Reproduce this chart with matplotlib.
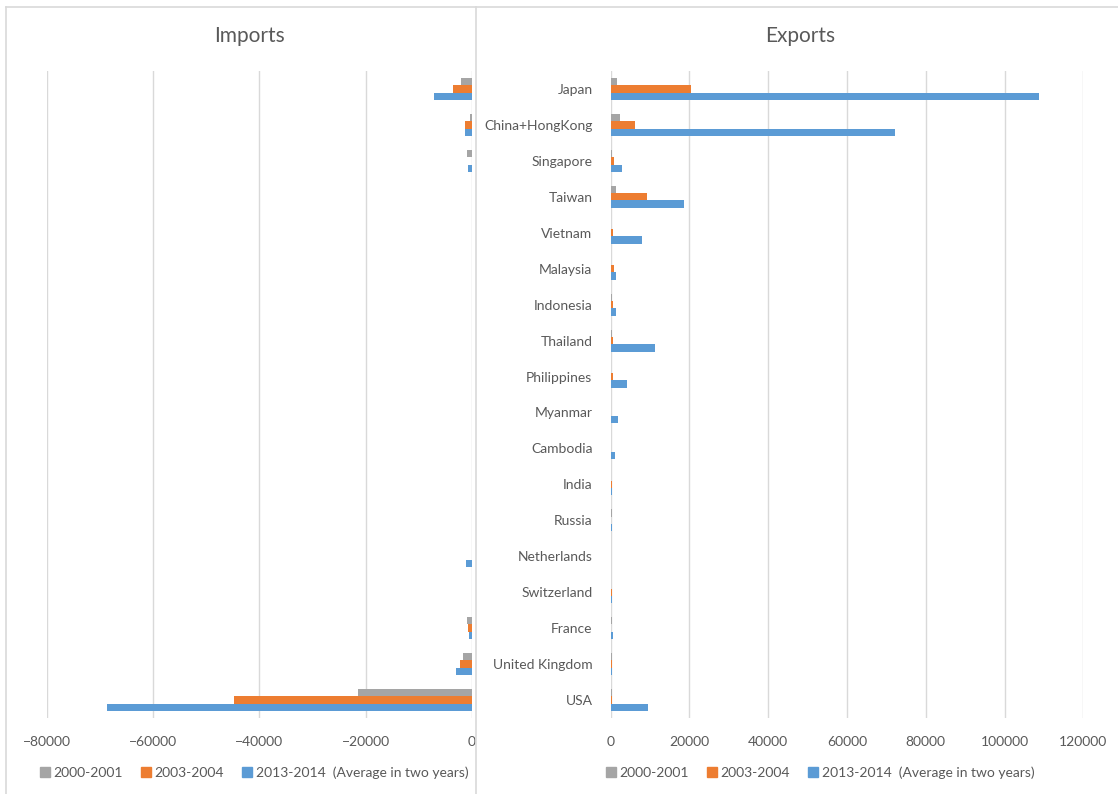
import numpy as np
import matplotlib.pyplot as plt
from matplotlib.lines import Line2D

plt.rcParams['font.family'] = ['Lato', 'DejaVu Sans']

countries = ["Japan", "China+HongKong", "Singapore", "Taiwan", "Vietnam", "Malaysia",
             "Indonesia", "Thailand", "Philippines", "Myanmar", "Cambodia", "India",
             "Russia", "Netherlands", "Switzerland", "France", "United Kingdom", "USA"]

# imports (negative)
imp_2000 = [-2000, -300, -930, 0, 0, 0, 0, 0, 0, 0, 0, 0, 0, 0, 0, -870, -1730, -21400]
imp_2003 = [-3530, -1250, 0, 0, 0, 0, 0, 0, 0, 0, 0, 0, 0, 0, 0, -690, -2170, -44800]
imp_2013 = [-7140, -1250, -750, 0, 0, 0, 0, 0, 0, 0, 0, 0, 0, -1060, 0, -500, -2980, -68650]

# exports
exp_2000 = [1700, 2460, 430, 1500, 250, 80, 300, 350, 250, 60, 60, 80, 300, 0, 250, 350, 300, 300]
exp_2003 = [20500, 6200, 1000, 9150, 550, 900, 550, 550, 700, 100, 250, 300, 60, 0, 300, 200, 300, 300]
exp_2013 = [108800, 72200, 2800, 18600, 8000, 1500, 1300, 11400, 4100, 1950, 1250, 300, 300, 0, 300, 550, 350, 9400]

series_labels = ["2000-2001", "2003-2004", "2013-2014  (Average in two years)"]
colors = ["#A5A5A5", "#ED7D31", "#5B9BD5"]
grid_c = "#D9D9D9"
text_c = "#595959"

W, H = 1118, 794
fig = plt.figure(figsize=(W / 100, H / 100), dpi=100)

y = np.arange(len(countries))
bh = 0.204
offs = [-bh, 0, bh]

top, bot = 71, 718
axL = fig.add_axes([46.7 / W, 1 - bot / H, (472 - 46.7) / W, (bot - top) / H])
axR = fig.add_axes([610.5 / W, 1 - bot / H, (1083.3 - 610.5) / W, (bot - top) / H])

for ax, data in [(axL, [imp_2000, imp_2003, imp_2013]), (axR, [exp_2000, exp_2003, exp_2013])]:
    for vals, off, c in zip(data, offs, colors):
        ax.barh(y + off, vals, height=bh, color=c, zorder=3)
    ax.set_ylim(len(countries) - 0.5, -0.5)
    for s in ax.spines.values():
        s.set_visible(False)
    ax.grid(axis='x', color=grid_c, linewidth=1, zorder=0)
    ax.tick_params(axis='both', length=0, labelsize=10, labelcolor=text_c)
    ax.tick_params(axis='x', pad=13)

axL.set_xlim(-80000, 0)
axL.set_xticks(np.arange(-80000, 1, 20000))
axL.set_yticks([])

axR.set_xlim(0, 120000)
axR.set_xticks(np.arange(0, 120001, 20000))
axR.set_yticks(y)
axR.set_yticklabels(countries)
axR.tick_params(axis='y', pad=13)

fig.text(250 / W, 1 - 36 / H, "Imports", ha='center', va='center', fontsize=15, color=text_c)
fig.text(800 / W, 1 - 36 / H, "Exports", ha='center', va='center', fontsize=15, color=text_c)

# chart borders
fig.add_artist(Line2D([6 / W, 1], [1 - 7 / H, 1 - 7 / H], color=grid_c, linewidth=1.2))
fig.add_artist(Line2D([6 / W, 6 / W], [0, 1 - 7 / H], color=grid_c, linewidth=1.2))
fig.add_artist(Line2D([476 / W, 476 / W], [0, 1 - 7 / H], color=grid_c, linewidth=1.2))

handles = [Line2D([], [], marker='s', linestyle='', color=c, markersize=7) for c in colors]
for cx in [253, 819]:
    fig.legend(handles, series_labels, loc='center', bbox_to_anchor=(cx / W, 1 - 773 / H),
               ncol=3, frameon=False, fontsize=10, labelcolor=text_c,
               handletextpad=0.1, columnspacing=1.2, handlelength=1.0)

fig.savefig("out.png", dpi=100)
